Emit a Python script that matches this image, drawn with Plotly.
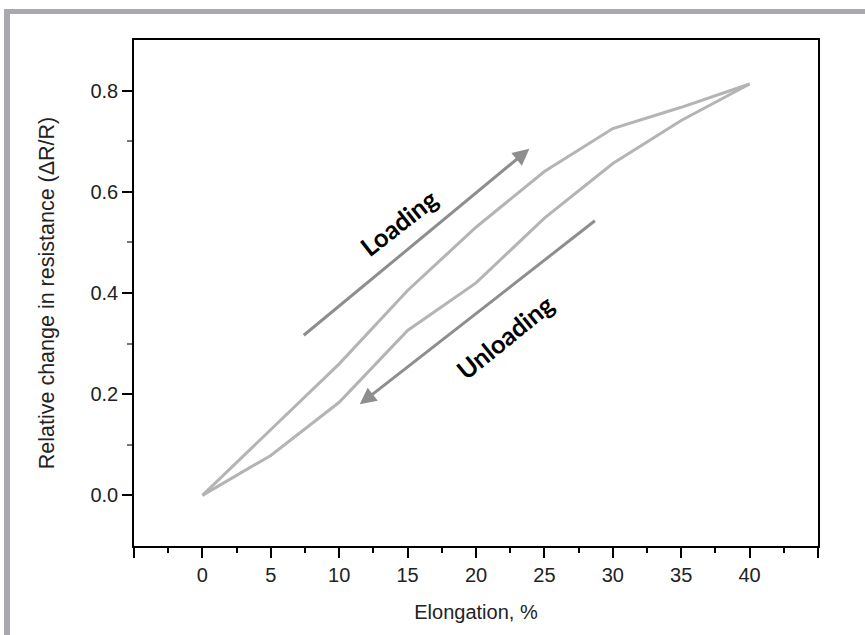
import plotly.graph_objects as go

# Data
elong_load = [0, 5, 10, 15, 20, 25, 30, 35, 40]
dr_load = [0.0, 0.13, 0.26, 0.405, 0.53, 0.64, 0.725, 0.767, 0.813]
elong_unload = [40, 35, 30, 25, 20, 15, 10, 5, 0]
dr_unload = [0.813, 0.741, 0.656, 0.548, 0.42, 0.326, 0.184, 0.079, 0.0]

x_ticks = [-5, 0, 5, 10, 15, 20, 25, 30, 35, 40, 45]
x_ticklabels = ["", "0", "5", "10", "15", "20", "25", "30", "35", "40", ""]
y_ticks = [0.0, 0.2, 0.4, 0.6, 0.8]
y_ticklabels = ["0.0", "0.2", "0.4", "0.6", "0.8"]

W, H = 865, 635
L, R, T, B = 134, 47, 40, 89
pw, ph = W - L - R, H - T - B

def px(xp):
    return (xp - L) / pw

def py(yp):
    return (H - B - yp) / ph

line_col = "#b4b4b4"
arrow_col = "#8e8e8e"
frame_col = "#a8a9ac"
sans = "Liberation Sans, Arial, sans-serif"

fig = go.Figure()
fig.add_trace(go.Scatter(x=elong_load, y=dr_load, mode="lines",
                         line=dict(color=line_col, width=3), showlegend=False))
fig.add_trace(go.Scatter(x=elong_unload, y=dr_unload, mode="lines",
                         line=dict(color=line_col, width=3), showlegend=False))

tickfont = dict(family=sans, size=20, color="#222")

fig.update_layout(
    width=W, height=H,
    margin=dict(l=L, r=R, t=T, b=B),
    paper_bgcolor="white", plot_bgcolor="white",
    xaxis=dict(range=[-5, 45], tickmode="array", tickvals=x_ticks, ticktext=x_ticklabels,
               ticks="outside", ticklen=10, tickwidth=1.5, tickcolor="black",
               showline=True, linecolor="black", linewidth=1.5, mirror=True,
               showgrid=False, zeroline=False, tickfont=tickfont,
               minor=dict(tickmode="array", tickvals=[-2.5, 2.5, 7.5, 12.5, 17.5, 22.5, 27.5, 32.5, 37.5, 42.5],
                          ticks="outside", ticklen=5, tickwidth=1.5, tickcolor="black", showgrid=False),
               title=dict(text="Elongation, %", font=dict(family=sans, size=20, color="#222"), standoff=20)),
    yaxis=dict(range=[-0.1, 0.9], tickmode="array", tickvals=y_ticks, ticktext=y_ticklabels,
               ticks="outside", ticklen=10, tickwidth=1.5, tickcolor="black",
               showline=True, linecolor="black", linewidth=1.5, mirror=True,
               showgrid=False, zeroline=False, tickfont=tickfont,
               minor=dict(tickmode="array", tickvals=[0.1, 0.3, 0.5, 0.7],
                          ticks="outside", ticklen=5, tickwidth=1.5, tickcolor="#777", showgrid=False),
               title=dict(text="Relative change in resistance (ΔR/R)", font=dict(family=sans, size=21.5, color="#222"), standoff=30)),
)

# Gray frame (top and left bands)
fig.add_shape(type="rect", xref="paper", yref="paper", x0=px(4), x1=px(W + 5), y0=py(14), y1=py(9),
              fillcolor=frame_col, line_width=0, layer="below")
fig.add_shape(type="rect", xref="paper", yref="paper", x0=px(4), x1=px(10), y0=py(H + 5), y1=py(9),
              fillcolor=frame_col, line_width=0, layer="below")

# Arrows
fig.add_annotation(x=23.9, y=0.685, ax=7.3, ay=0.314, xref="x", yref="y", axref="x", ayref="y",
                   showarrow=True, arrowhead=2, arrowsize=1.1, arrowwidth=3, arrowcolor=arrow_col, text="")
fig.add_annotation(x=11.5, y=0.18, ax=28.8, ay=0.545, xref="x", yref="y", axref="x", ayref="y",
                   showarrow=True, arrowhead=2, arrowsize=1.1, arrowwidth=3, arrowcolor=arrow_col, text="")

labfont = dict(family="Lato, Open Sans, sans-serif", size=25.5, color="black")
fig.add_annotation(x=14.4, y=0.54, xref="x", yref="y", text="<b>Loading</b>", showarrow=False,
                   textangle=-38, font=labfont)
fig.add_annotation(x=22.1, y=0.313, xref="x", yref="y", text="<b>Unloading</b>", showarrow=False,
                   textangle=-39, font=labfont)

fig.write_html("out.html", config={"displayModeBar": False},
               post_script="document.body.style.margin='0';")
